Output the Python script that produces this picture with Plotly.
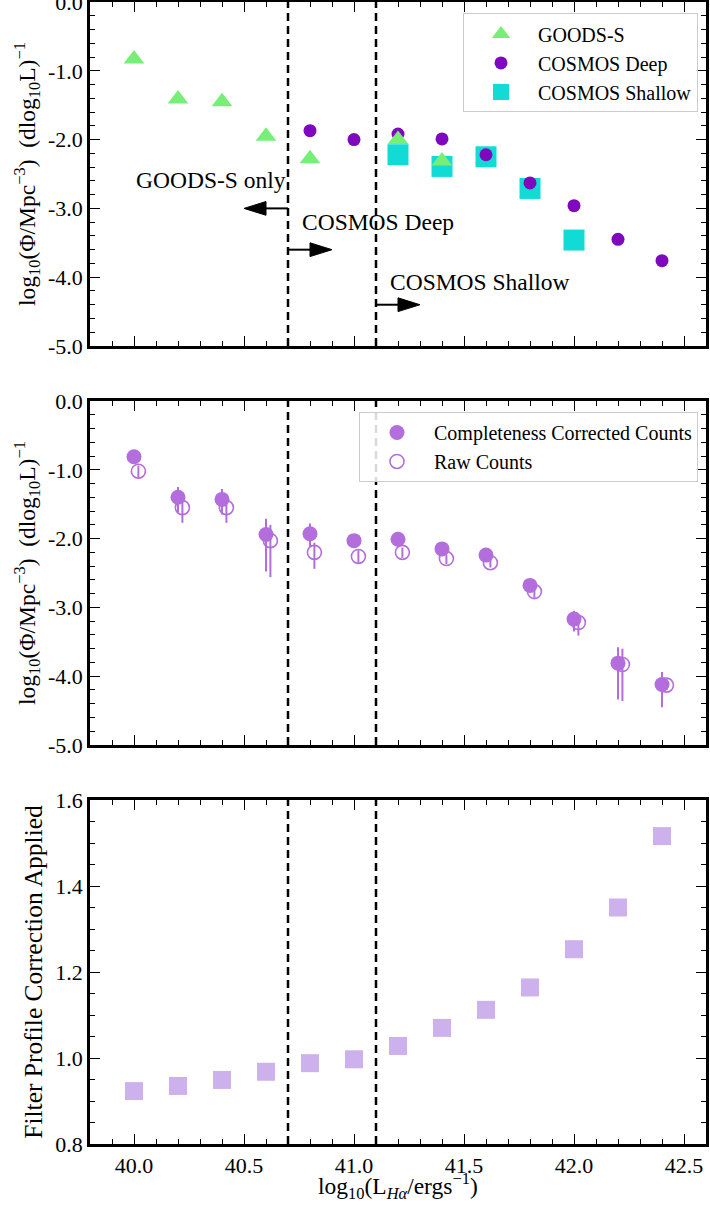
import plotly.graph_objects as go
from plotly.subplots import make_subplots

# ---------------- data ----------------
# luminosity bins, log10(L_Halpha / erg s^-1)
lum_bins = [40.0, 40.2, 40.4, 40.6, 40.8, 41.0, 41.2, 41.4, 41.6, 41.8, 42.0, 42.2, 42.4]

# panel 1: luminosity function per field
goods_x = [40.0, 40.2, 40.4, 40.6, 40.8, 41.2, 41.4]
goods_y = [-0.83, -1.41, -1.45, -1.95, -2.28, -2.00, -2.31]
deep_x = [40.8, 41.0, 41.2, 41.4, 41.6, 41.8, 42.0, 42.2, 42.4]
deep_y = [-1.87, -2.00, -1.92, -1.99, -2.22, -2.63, -2.96, -3.45, -3.76]
shallow_x = [41.2, 41.4, 41.6, 41.8, 42.0]
shallow_y = [-2.22, -2.39, -2.25, -2.71, -3.46]

# panel 2: completeness-corrected vs raw counts
corr_y = [-0.81, -1.40, -1.43, -1.94, -1.93, -2.03, -2.01, -2.15, -2.24, -2.68, -3.17, -3.81, -4.12]
corr_err_up = [0.05, 0.15, 0.15, 0.23, 0.15, 0.06, 0.05, 0.05, 0.05, 0.06, 0.12, 0.23, 0.18]
corr_err_dn = [0.06, 0.22, 0.22, 0.54, 0.18, 0.07, 0.06, 0.06, 0.06, 0.08, 0.18, 0.53, 0.33]
raw_offset = 0.02
raw_y = [-1.02, -1.55, -1.55, -2.03, -2.20, -2.26, -2.20, -2.29, -2.35, -2.77, -3.22, -3.83, -4.13]
raw_err_up = [0.08, 0.10, 0.10, 0.23, 0.14, 0.09, 0.07, 0.05, 0.05, 0.06, 0.10, 0.23, 0.06]
raw_err_dn = [0.10, 0.22, 0.22, 0.53, 0.24, 0.10, 0.08, 0.08, 0.07, 0.09, 0.19, 0.53, 0.07]

# panel 3: filter profile correction factor
filter_corr = [0.923, 0.935, 0.949, 0.968, 0.988, 0.997, 1.028, 1.070, 1.112, 1.164, 1.253, 1.350, 1.516]

# survey depth boundaries
deep_limit = 40.7
shallow_limit = 41.1

# axis ticks
x_ticks = [40.0, 40.5, 41.0, 41.5, 42.0, 42.5]
x_ticktext = ["40.0", "40.5", "41.0", "41.5", "42.0", "42.5"]
phi_ticks = [0.0, -1.0, -2.0, -3.0, -4.0, -5.0]
phi_ticktext = ["0.0", "-1.0", "-2.0", "-3.0", "-4.0", "-5.0"]
fc_ticks = [0.8, 1.0, 1.2, 1.4, 1.6]
fc_ticktext = ["0.8", "1.0", "1.2", "1.4", "1.6"]

# ---------------- styling ----------------
FONT = "Liberation Serif"
GREEN = "#77ef77"
PURPLE = "#7f08bf"
CYAN = "#12dbd6"
ORCHID = "#b46ddd"
LAVENDER = "#cdb1ec"

fig = make_subplots(rows=3, cols=1, vertical_spacing=55 / 1142)

# ----- panel 1 -----
fig.add_trace(go.Scatter(
    x=shallow_x, y=shallow_y, mode="markers", name="COSMOS Shallow",
    marker=dict(symbol="square", size=21, color=CYAN),
    legend="legend", legendrank=3), row=1, col=1)
fig.add_trace(go.Scatter(
    x=deep_x, y=deep_y, mode="markers", name="COSMOS Deep",
    marker=dict(symbol="circle", size=13, color=PURPLE),
    legend="legend", legendrank=2), row=1, col=1)
fig.add_trace(go.Scatter(
    x=goods_x, y=goods_y, mode="markers", name="GOODS-S",
    marker=dict(symbol="triangle-up", size=18, color=GREEN),
    legend="legend", legendrank=1), row=1, col=1)

# ----- panel 2 -----
fig.add_trace(go.Scatter(
    x=lum_bins, y=corr_y, mode="markers", name="Completeness Corrected Counts",
    marker=dict(symbol="circle", size=15, color=ORCHID),
    error_y=dict(type="data", symmetric=False, array=corr_err_up,
                 arrayminus=corr_err_dn, color=ORCHID, thickness=2, width=0),
    legend="legend2"), row=2, col=1)
fig.add_trace(go.Scatter(
    x=[v + raw_offset for v in lum_bins], y=raw_y, mode="markers", name="Raw Counts",
    marker=dict(symbol="circle-open", size=14, color=ORCHID, line=dict(width=1.6)),
    error_y=dict(type="data", symmetric=False, array=raw_err_up,
                 arrayminus=raw_err_dn, color=ORCHID, thickness=2, width=0),
    legend="legend2"), row=2, col=1)

# ----- panel 3 -----
fig.add_trace(go.Scatter(
    x=lum_bins, y=filter_corr, mode="markers", showlegend=False,
    marker=dict(symbol="square", size=18, color=LAVENDER)), row=3, col=1)

# dashed survey limits in every panel
for r in (1, 2, 3):
    for xv in (deep_limit, shallow_limit):
        fig.add_shape(type="line", x0=xv, x1=xv, y0=0, y1=1,
                      xref=f"x{'' if r == 1 else r}", yref=f"y{'' if r == 1 else r} domain",
                      line=dict(color="black", width=2.5, dash="8px,5px"), layer="above")

# arrows marking which survey covers which luminosity range
arrow_specs = [
    # (tail x, y, direction, label, label x, label y)
    (deep_limit, -3.0, -1, "GOODS-S only", 40.0, -2.58),
    (deep_limit, -3.6, 1, "COSMOS Deep", 40.755, -3.2),
    (shallow_limit, -4.4, 1, "COSMOS Shallow", 41.155, -4.07),
]
stem_len = 0.1
head_len = 0.1
head_half = 0.1
for x0, yv, d, label, lx, ly in arrow_specs:
    xb = x0 + d * stem_len
    xt = xb + d * head_len
    fig.add_shape(type="line", x0=x0, x1=xb, y0=yv, y1=yv, xref="x", yref="y",
                  line=dict(color="black", width=2))
    fig.add_shape(type="path", xref="x", yref="y",
                  path=f"M {xb},{yv - head_half} L {xt},{yv} L {xb},{yv + head_half} Z",
                  fillcolor="black", line=dict(color="black", width=1))
    fig.add_annotation(x=lx, y=ly, xref="x", yref="y", text=label, showarrow=False,
                       xanchor="left", yanchor="middle",
                       font=dict(family=FONT, size=23.5, color="black"))

# ----- axes -----
axis_common = dict(
    showline=True, linecolor="black", linewidth=2.5, mirror="allticks",
    ticks="inside", ticklen=10, tickwidth=1.4, tickcolor="black",
    showgrid=False, zeroline=False, automargin=False, ticklabeloverflow="allow",
    tickfont=dict(family=FONT, size=22, color="black"),
)
x_minor = [round(39.8 + 0.1 * i, 1) for i in range(29)]
for r in (1, 2, 3):
    fig.update_xaxes(
        range=[39.8, 42.6], tickmode="array", tickvals=x_ticks, ticktext=x_ticktext,
        showticklabels=(r == 3),
        minor=dict(ticks="inside", ticklen=5, tickwidth=1.3, tickcolor="black",
                   tickmode="array", tickvals=x_minor),
        row=r, col=1, **axis_common)

phi_minor = [round(-5.0 + 0.2 * i, 1) for i in range(26)]
phi_title = "log<sub>10</sub>(Φ/Mpc<sup>−3</sup>)  (dlog<sub>10</sub>L)<sup>−1</sup>"
for r in (1, 2):
    fig.update_yaxes(
        range=[-5.0, 0.0], tickmode="array", tickvals=phi_ticks, ticktext=phi_ticktext,
        minor=dict(ticks="inside", ticklen=5, tickwidth=1.3, tickcolor="black",
                   tickmode="array", tickvals=phi_minor),
        title=dict(text=phi_title, font=dict(family=FONT, size=23.5, color="black"), standoff=6),
        row=r, col=1, **axis_common)

fc_minor = [round(0.8 + 0.05 * i, 2) for i in range(17)]
fig.update_yaxes(
    range=[0.8, 1.6], tickmode="array", tickvals=fc_ticks, ticktext=fc_ticktext,
    minor=dict(ticks="inside", ticklen=5, tickwidth=1.3, tickcolor="black",
               tickmode="array", tickvals=fc_minor),
    title=dict(text="Filter Profile Correction Applied",
               font=dict(family=FONT, size=25.5, color="black"), standoff=6),
    row=3, col=1, **axis_common)

# bottom x-axis title, anchored at its lower edge so it stays inside the page
fig.add_annotation(
    x=0.5, y=-0.0525, xref="paper", yref="paper", xanchor="center", yanchor="bottom",
    text="log<sub>10</sub>(L<sub><i>Hα</i></sub>/ergs<sup>−1</sup>)", showarrow=False,
    borderpad=0, font=dict(family=FONT, size=23.5, color="black"))

legend_common = dict(
    bgcolor="rgba(255,255,255,0.85)", bordercolor="#cccccc", borderwidth=1,
    font=dict(family=FONT, size=20, color="black"),
    xanchor="right", yanchor="top", x=0.987, itemwidth=64,
    tracegroupgap=0,
)

fig.update_layout(
    width=710, height=1207,
    margin=dict(l=90, r=4, t=2, b=63, autoexpand=False),
    paper_bgcolor="white", plot_bgcolor="white",
    font=dict(family=FONT, color="black"),
    legend=dict(y=0.990, **legend_common),
    legend2=dict(y=0.641, **legend_common),
)

fig.write_html("out.html")
